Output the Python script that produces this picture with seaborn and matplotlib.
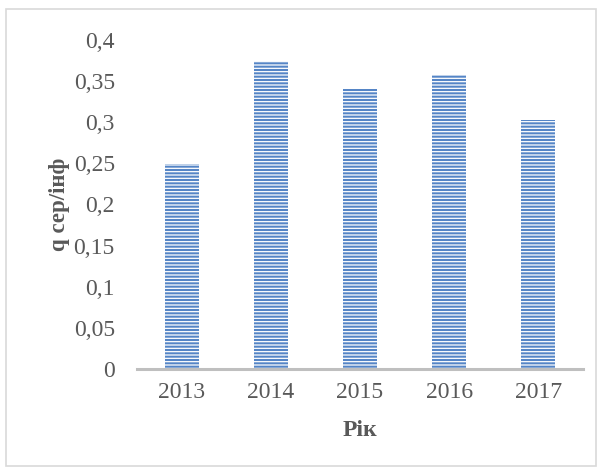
import matplotlib
matplotlib.use("Agg")
import matplotlib.pyplot as plt
import seaborn as sns
import pandas as pd
from matplotlib.patches import Rectangle

years = ["2013", "2014", "2015", "2016", "2017"]
values = [0.249, 0.375, 0.340, 0.358, 0.303]
yticks = [0, 0.05, 0.1, 0.15, 0.2, 0.25, 0.3, 0.35, 0.4]
ytick_labels = ["0", "0,05", "0,1", "0,15", "0,2", "0,25", "0,3", "0,35", "0,4"]

sns.set_style("white")
plt.rcParams['font.family'] = ['Liberation Serif', 'DejaVu Serif']
plt.rcParams['hatch.color'] = '#c2d6f0'
plt.rcParams['hatch.linewidth'] = 0.9

df = pd.DataFrame({"year": years, "value": values})

fig = plt.figure(figsize=(6.01, 4.72), dpi=100)
ax = fig.add_axes([137/601, 1 - 369/472, (583-137)/601, (369-40)/472])

sns.barplot(data=df, x="year", y="value", ax=ax, color="#5585c6", width=0.38,
            saturation=1, linewidth=0)
for p in ax.patches:
    p.set_hatch('-----')

ax.set_ylim(0, 0.4)
ax.set_yticks(yticks)
ax.set_yticklabels(ytick_labels)
ax.tick_params(axis='both', labelsize=17, colors='#595959', length=0)
ax.tick_params(axis='x', pad=9)
ax.tick_params(axis='y', pad=16)
for s in ['top', 'right', 'left']:
    ax.spines[s].set_visible(False)
ax.spines['bottom'].set_color('#bfbfbf')
ax.spines['bottom'].set_linewidth(2.2)

ax.set_xlabel("Рік", fontsize=17, fontweight='bold', color='#595959')
ax.set_ylabel("q сер/інф", fontsize=16.5, fontweight='bold', color='#595959')
ax.xaxis.set_label_coords(0.5, -0.155)
ax.yaxis.set_label_coords(-0.15, 0.5)

fig.patches.append(Rectangle((6/601, 6/472), 590/601, 457/472, transform=fig.transFigure,
                             fill=False, edgecolor='#d9d9d9', linewidth=1.2))

fig.savefig("out.png", dpi=100)
